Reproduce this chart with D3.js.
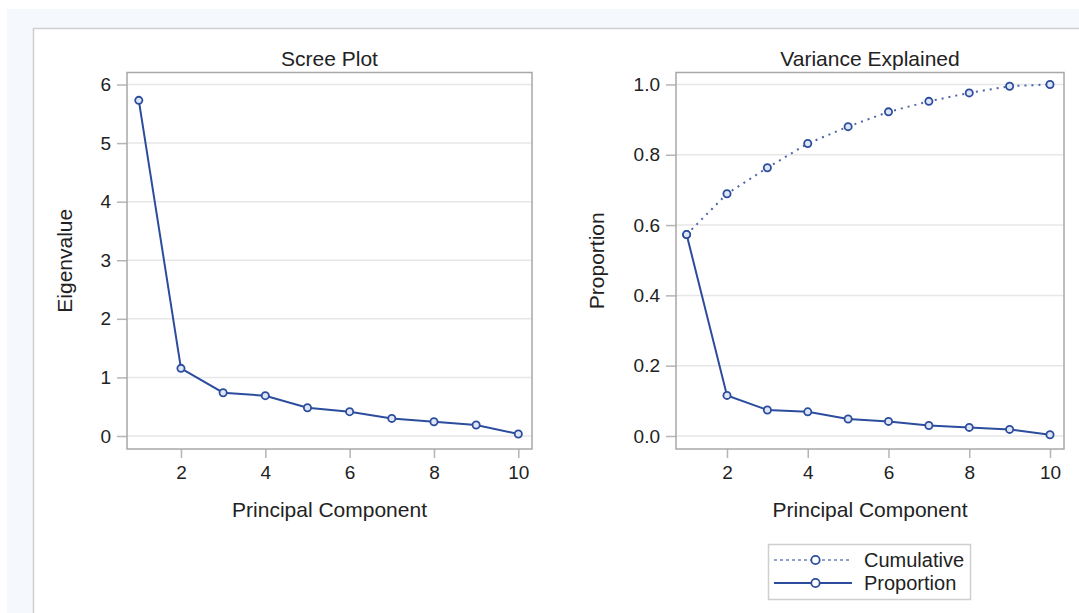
<!DOCTYPE html>
<html><head><meta charset="utf-8">
<script src="https://cdn.jsdelivr.net/npm/d3@7"></script>
<style>
html,body{margin:0;padding:0;background:#fff;}
svg{display:block;font-family:"Liberation Sans",Arial,sans-serif;}
</style></head>
<body>
<svg id="c" width="1079" height="613"></svg>
<script>
const components = [1,2,3,4,5,6,7,8,9,10];
const eigenvalues = [5.73,1.155,0.739,0.688,0.483,0.415,0.300,0.244,0.188,0.034];
const proportion = [0.573,0.1155,0.0739,0.0688,0.0483,0.0415,0.0300,0.0244,0.0188,0.0034];
const cumulative = [0.573,0.689,0.763,0.832,0.880,0.922,0.952,0.976,0.995,1.000];
const xTicks = [2,4,6,8,10];
const eigTicks = [0,1,2,3,4,5,6];
const propTicks = [0,0.2,0.4,0.6,0.8,1.0];
const legendLabels = ["Cumulative","Proportion"];

const svg = d3.select("#c");
const LINE = "#2c4d9e", DOT = "#4f64a6", GRID = "#e7e7e7", FRAME = "#a8a8a8", TXT = "#222";

svg.append("rect").attr("x",7).attr("y",9).attr("width",1079).attr("height",613).attr("fill","#f5f8fc");
svg.append("rect").attr("x",33.5).attr("y",28.5).attr("width",1100).attr("height",650)
  .attr("fill","#fff").attr("stroke","#cfcfcf").attr("stroke-width",1.5);

function panel(o){
  const x = d3.scaleLinear().domain(o.xd).range([o.l,o.r]);
  const y = d3.scaleLinear().domain(o.yd).range([o.b,o.t]);
  const g = svg.append("g");
  // grid
  g.selectAll(".grid").data(o.yt).join("line")
    .attr("x1",o.l).attr("x2",o.r).attr("y1",d=>y(d)).attr("y2",d=>y(d))
    .attr("stroke",GRID).attr("stroke-width",1.5);
  // axes
  const ya = g.append("g").attr("transform",`translate(${o.l},0)`)
    .call(d3.axisLeft(y).tickValues(o.yt).tickFormat(o.yf).tickSize(10).tickPadding(6));
  const xa = g.append("g").attr("transform",`translate(0,${o.b})`)
    .call(d3.axisBottom(x).tickValues(xTicks).tickSize(9).tickPadding(8));
  [ya,xa].forEach(a=>{
    a.select(".domain").remove();
    a.selectAll(".tick line").attr("stroke","#b5b5b5").attr("stroke-width",1.5);
    a.selectAll(".tick text").attr("fill",TXT).style("font-size","19px");
  });
  // frame
  g.append("rect").attr("x",o.l).attr("y",o.t).attr("width",o.r-o.l).attr("height",o.b-o.t)
    .attr("fill","none").attr("stroke",FRAME).attr("stroke-width",1.5);
  // title
  g.append("text").attr("x",(o.l+o.r)/2).attr("y",66).attr("text-anchor","middle")
    .attr("fill",TXT).style("font-size","21px").text(o.title);
  g.append("text").attr("x",(o.l+o.r)/2).attr("y",517).attr("text-anchor","middle")
    .attr("fill",TXT).style("font-size","21px").text("Principal Component");
  g.append("text").attr("transform",`translate(${o.yl},${(o.t+o.b)/2}) rotate(-90)`)
    .attr("text-anchor","middle").attr("fill",TXT).style("font-size","21px").text(o.ylabel);
  return {x,y,g};
}

function series(p, vals, dashed){
  const line = d3.line().x((d,i)=>p.x(components[i])).y(d=>p.y(d));
  p.g.append("path").datum(vals).attr("d",line).attr("fill","none")
    .attr("stroke",dashed?DOT:LINE).attr("stroke-width",dashed?2:2)
    .attr("stroke-dasharray",dashed?"2,5":null);
  p.g.selectAll(null).data(vals).join("circle")
    .attr("cx",(d,i)=>p.x(components[i])).attr("cy",d=>p.y(d)).attr("r",3.6)
    .attr("fill","#dfe7f7").attr("stroke",LINE).attr("stroke-width",1.8);
}

const p1 = panel({l:127,r:532,t:72.5,b:449,xd:[0.72,10.325],yd:[-0.222,6.205],
  yt:eigTicks,yf:d3.format("d"),title:"Scree Plot",ylabel:"Eigenvalue",yl:72});
series(p1, eigenvalues, false);

const p2 = panel({l:676,r:1064,t:72.5,b:449,xd:[0.737,10.347],yd:[-0.037,1.034],
  yt:propTicks,yf:d3.format(".1f"),title:"Variance Explained",ylabel:"Proportion",yl:604});
series(p2, cumulative, true);
series(p2, proportion, false);

// legend
const lg = svg.append("g");
lg.append("rect").attr("x",768.5).attr("y",544.5).attr("width",202).attr("height",55)
  .attr("fill","#fff").attr("stroke","#cfcfcf").attr("stroke-width",1.5);
legendLabels.forEach((lab,i)=>{
  const yy = 560 + i*23;
  lg.append("line").attr("x1",774).attr("x2",852).attr("y1",yy).attr("y2",yy)
    .attr("stroke",i===0?"#6f80b8":LINE).attr("stroke-width",i===0?1.3:2)
    .attr("stroke-dasharray",i===0?"3,3":null);
  lg.append("circle").attr("cx",815.5).attr("cy",yy).attr("r",4.2)
    .attr("fill","#fff").attr("stroke",LINE).attr("stroke-width",1.8);
  lg.append("text").attr("x",864).attr("y",yy+7).attr("fill",TXT)
    .style("font-size","20px").text(lab);
});
</script>
</body></html>
